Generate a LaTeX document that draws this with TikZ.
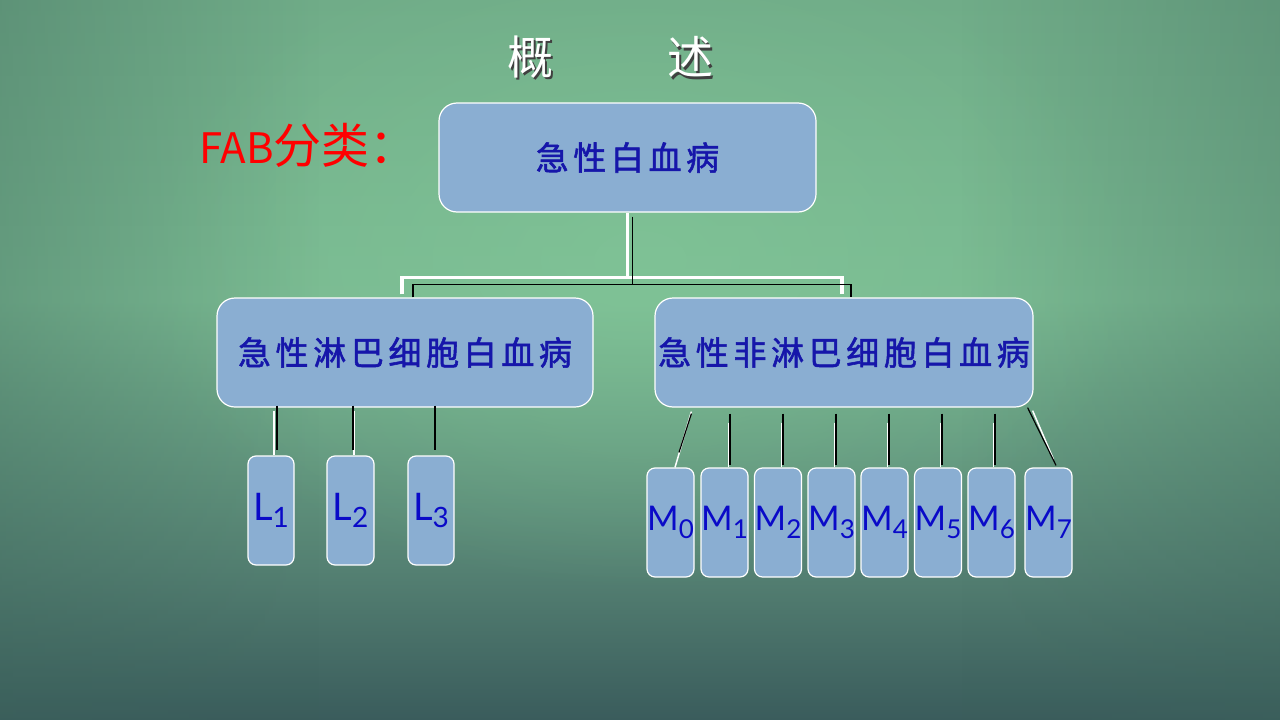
\documentclass[tikz,border=0pt]{standalone}
\usepackage{fontspec}
\usetikzlibrary{calc,fadings}
\newfontfamily\cjk{Noto Sans CJK SC}
\newfontfamily\cjksp[LetterSpace=14,FakeBold=1.6]{Noto Sans CJK SC}
\newfontfamily\latin{Lato}
\definecolor{boxfill}{RGB}{138,174,210}
\definecolor{txtblue}{RGB}{22,22,170}
\definecolor{ltrblue}{RGB}{10,10,200}
\definecolor{bgc0}{RGB}{58,92,92}
\definecolor{bgc1}{RGB}{84,128,114}
\definecolor{bgc2}{RGB}{122,186,146}
\definecolor{bgc3}{RGB}{112,172,136}
\definecolor{bglight}{RGB}{132,202,154}
\definecolor{bgedge}{RGB}{60,100,90}
\tikzfading[name=softedge, inner color=transparent!0, outer color=transparent!100]
\tikzfading[name=fadeR, left color=transparent!0, right color=transparent!100]
\tikzfading[name=fadeL, left color=transparent!100, right color=transparent!0]
\tikzset{
  bigbox/.style={draw=white, line width=1.2pt, fill=boxfill, rounded corners=18pt,
    minimum width=#1, minimum height=109, inner sep=0pt, text=txtblue,
    font=\cjksp\fontsize{33}{35}\selectfont},
  smallbox/.style={draw=white, line width=1.2pt, fill=boxfill, rounded corners=8pt,
    minimum width=47, minimum height=109, inner sep=0pt, text=ltrblue},
  titletxt/.style={font=\cjk\fontsize{46}{48}\selectfont},
  wline/.style={draw=white, line width=#1},
  wline/.default=1.5pt,
  bline/.style={draw=black, line width=1.2pt},
}
\newcommand{\Lbl}[2]{\fontsize{38}{40}\selectfont\latin #1\raisebox{-0.2em}{\fontsize{28}{30}\selectfont #2}}
\newcommand{\Mbl}[2]{\fontsize{34}{36}\selectfont\latin #1\raisebox{-0.22em}{\fontsize{26}{28}\selectfont #2}}
\begin{document}
\begin{tikzpicture}[x=1pt,y=-1pt]
\useasboundingbox (0,0) rectangle (1280,720);
% background
\shade[top color=bgc3, bottom color=bgc2] (0,0) rectangle (1280,300.5);
\shade[top color=bgc2, bottom color=bgc1] (0,300) rectangle (1280,570.5);
\shade[top color=bgc1, bottom color=bgc0] (0,570) rectangle (1280,720);
\fill[bglight, path fading=softedge, opacity=0.55] (640,260) ellipse (520 and 330);
\fill[bgedge, path fading=fadeR, opacity=0.35] (0,0) rectangle (320,720);
\fill[bgedge, path fading=fadeL, opacity=0.3] (960,0) rectangle (1280,720);

% title
\node[text=black!75, titletxt] at (532.5,59.5) {概};
\node[text=white, titletxt] (t1) at (530,57) {概};
\node[text=black!75, titletxt] at (692.5,59.5) {述};
\node[text=white, titletxt] (t2) at (690,57) {述};

% FAB label
\node[anchor=west, text=red, inner sep=0pt] (fab) at (199,145)
  {\cjk\fontsize{42}{44}\selectfont FAB\fontsize{48}{50}\selectfont 分类：};

% main boxes
\node[bigbox=377] (top) at (627.5,157.5) {急性白血病};
\node[bigbox=376] (left) at (405,352.5) {急性淋巴细胞白血病};
\node[bigbox=378] (right) at (844,352.5) {急性非淋巴细胞白血病};

% L boxes
\node[smallbox, minimum width=46] (L1) at (271,510.5) {\Lbl{L}{1}};
\node[smallbox] (L2) at (350.5,510.5) {\Lbl{L}{2}};
\node[smallbox, minimum width=46] (L3) at (431,510.5) {\Lbl{L}{3}};

% M boxes
\node[smallbox] (M0) at (670.5,522.5) {\Mbl{M}{0}};
\node[smallbox] (M1) at (724.5,522.5) {\Mbl{M}{1}};
\node[smallbox] (M2) at (778,522.5) {\Mbl{M}{2}};
\node[smallbox] (M3) at (831.5,522.5) {\Mbl{M}{3}};
\node[smallbox] (M4) at (884.5,522.5) {\Mbl{M}{4}};
\node[smallbox] (M5) at (938,522.5) {\Mbl{M}{5}};
\node[smallbox] (M6) at (991.5,522.5) {\Mbl{M}{6}};
\node[smallbox] (M7) at (1048.5,522.5) {\Mbl{M}{7}};

% top-level connectors: white
\draw[wline=3.5pt] (top.south) -- ++(0,65) coordinate (wj);
\draw[wline=3.5pt] ($(left.north)+(-3,-3)$) |- (wj) -| ($(right.north)+(-2,-3)$);
% top-level connectors: black
\draw[bline] ($(top.south)+(5,4)$) -- ++(0,68) coordinate (bj);
\draw[bline] ($(left.north)+(8,0)$) |- (bj) -| ($(right.north)+(7,0)$);

% L connectors
\draw[wline] ($(L1.north |- left.south)+(3,3)$) -- ($(L1.north)+(3,0)$);
\draw[bline] ($(L1.north |- left.south)+(6,-2)$) -- ($(L1.north)+(6,-5)$);
\draw[wline] ($(L2.north |- left.south)+(3.5,3)$) -- ($(L2.north)+(3.5,0)$);
\draw[bline] ($(L2.north |- left.south)+(2.5,-2)$) -- ($(L2.north)+(2.5,-5)$);
\draw[bline] ($(L3.north |- left.south)+(4,-2)$) -- ($(L3.north)+(4,-5)$);

% M connectors
\draw[wline] ($(right.south west)+(37,4)$) -- ($(M0.north)+(4.5,0)$);
\draw[bline] ($(right.south west)+(37,6)$) -- ($(M0.north)+(8.5,-15)$);
\foreach \m/\o in {M1/5.5,M2/5,M3/4.5,M4/4.5,M5/4,M6/3.5}{
  \draw[wline] ($(\m.north |- right.south)+(\o-1.5,15)$) -- ($(\m.north)+(\o-1.5,0)$);
  \draw[bline] ($(\m.north |- right.south)+(\o,6)$) -- ($(\m.north)+(\o,-2)$);
}
\draw[wline] ($(right.south east)+(-1,3)$) -- ($(M7.north)+(5,-8)$);
\draw[bline] ($(right.south east)+(-6,0)$) -- ($(M7.north)+(7.5,-2)$);
\end{tikzpicture}
\end{document}
